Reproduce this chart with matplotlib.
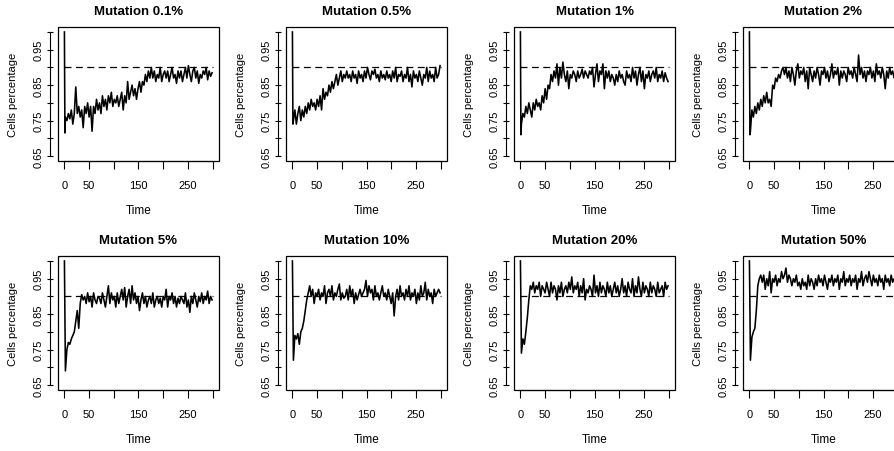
import numpy as np
import matplotlib
matplotlib.use("Agg")
import matplotlib.pyplot as plt
from matplotlib.patches import Rectangle

plt.rcParams['font.family'] = ['Liberation Sans', 'DejaVu Sans']
plt.rcParams['lines.scale_dashes'] = False

# time steps (0, 1, 2, then every 3rd step)
time = np.r_[0, 1, 2, np.arange(5, 301, 3)]

titles = ["Mutation 0.1%", "Mutation 0.5%", "Mutation 1%", "Mutation 2%",
          "Mutation 5%", "Mutation 10%", "Mutation 20%", "Mutation 50%"]

mut_01 = [1.00, 0.715, 0.76, 0.75, 0.77, 0.755, 0.78, 0.74, 0.77, 0.845,
          0.77, 0.79, 0.76, 0.78, 0.73, 0.79, 0.77, 0.80, 0.76, 0.79,
          0.72, 0.79, 0.77, 0.81, 0.78, 0.80, 0.77, 0.82, 0.79, 0.81,
          0.78, 0.82, 0.80, 0.83, 0.79, 0.81, 0.80, 0.82, 0.79, 0.81,
          0.83, 0.78, 0.82, 0.80, 0.86, 0.81, 0.83, 0.85, 0.82, 0.84,
          0.81, 0.84, 0.86, 0.83, 0.86, 0.85, 0.88, 0.86, 0.89, 0.87,
          0.90, 0.87, 0.89, 0.86, 0.88, 0.87, 0.90, 0.86, 0.88, 0.89,
          0.87, 0.89, 0.86, 0.88, 0.90, 0.87, 0.88, 0.855, 0.89, 0.87,
          0.89, 0.86, 0.88, 0.90, 0.87, 0.905, 0.88, 0.86, 0.89, 0.90,
          0.87, 0.89, 0.855, 0.88, 0.87, 0.89, 0.88, 0.90, 0.865, 0.89,
          0.875, 0.885]

mut_05 = [1.00, 0.74, 0.75, 0.78, 0.74, 0.77, 0.79, 0.75, 0.78, 0.76,
          0.79, 0.77, 0.80, 0.78, 0.81, 0.79, 0.80, 0.78, 0.81, 0.79,
          0.82, 0.78, 0.84, 0.81, 0.83, 0.82, 0.85, 0.83, 0.86, 0.84,
          0.86, 0.88, 0.85, 0.87, 0.89, 0.86, 0.88, 0.87, 0.89, 0.87,
          0.88, 0.86, 0.89, 0.87, 0.88, 0.855, 0.89, 0.87, 0.88, 0.86,
          0.89, 0.87, 0.90, 0.88, 0.865, 0.89, 0.88, 0.895, 0.87, 0.88,
          0.86, 0.89, 0.87, 0.88, 0.865, 0.89, 0.87, 0.88, 0.86, 0.89,
          0.87, 0.90, 0.86, 0.88, 0.875, 0.89, 0.86, 0.88, 0.87, 0.90,
          0.86, 0.88, 0.845, 0.89, 0.87, 0.88, 0.86, 0.89, 0.87, 0.85,
          0.88, 0.87, 0.90, 0.86, 0.89, 0.87, 0.88, 0.86, 0.90, 0.87,
          0.88, 0.905]

mut_1 = [1.00, 0.71, 0.74, 0.77, 0.76, 0.79, 0.77, 0.80, 0.78, 0.76,
         0.80, 0.78, 0.81, 0.79, 0.80, 0.78, 0.82, 0.80, 0.84, 0.81,
         0.85, 0.84, 0.88, 0.86, 0.89, 0.87, 0.91, 0.85, 0.90, 0.87,
         0.915, 0.88, 0.86, 0.89, 0.84, 0.88, 0.87, 0.89, 0.88, 0.86,
         0.89, 0.87, 0.88, 0.895, 0.87, 0.89, 0.88, 0.87, 0.89, 0.88,
         0.90, 0.845, 0.88, 0.91, 0.86, 0.89, 0.88, 0.91, 0.84, 0.89,
         0.87, 0.89, 0.86, 0.88, 0.87, 0.85, 0.88, 0.86, 0.89, 0.87,
         0.88, 0.86, 0.85, 0.89, 0.87, 0.88, 0.86, 0.90, 0.87, 0.89,
         0.85, 0.88, 0.90, 0.86, 0.89, 0.84, 0.88, 0.87, 0.89, 0.86,
         0.88, 0.89, 0.87, 0.90, 0.86, 0.88, 0.87, 0.89, 0.86, 0.885,
         0.87, 0.86]

mut_2 = [1.00, 0.71, 0.72, 0.78, 0.76, 0.79, 0.77, 0.80, 0.78, 0.81,
         0.79, 0.82, 0.80, 0.83, 0.80, 0.81, 0.79, 0.85, 0.84, 0.87,
         0.86, 0.88, 0.87, 0.89, 0.90, 0.88, 0.90, 0.87, 0.89, 0.86,
         0.90, 0.88, 0.85, 0.89, 0.91, 0.87, 0.89, 0.88, 0.90, 0.86,
         0.89, 0.84, 0.90, 0.88, 0.86, 0.89, 0.87, 0.90, 0.88, 0.85,
         0.89, 0.88, 0.90, 0.87, 0.89, 0.86, 0.88, 0.91, 0.87, 0.89,
         0.88, 0.90, 0.85, 0.89, 0.87, 0.89, 0.88, 0.86, 0.90, 0.88,
         0.89, 0.87, 0.90, 0.88, 0.86, 0.935, 0.88, 0.90, 0.87, 0.89,
         0.86, 0.89, 0.88, 0.90, 0.87, 0.89, 0.86, 0.91, 0.88, 0.89,
         0.87, 0.90, 0.88, 0.84, 0.89, 0.87, 0.90, 0.88, 0.89, 0.87,
         0.89, 0.88]

mut_5 = [1.00, 0.845, 0.69, 0.75, 0.77, 0.765, 0.78, 0.79, 0.80, 0.83,
         0.86, 0.81, 0.88, 0.905, 0.89, 0.90, 0.88, 0.91, 0.885, 0.90,
         0.87, 0.91, 0.89, 0.88, 0.90, 0.895, 0.88, 0.91, 0.89, 0.87,
         0.90, 0.93, 0.88, 0.91, 0.89, 0.90, 0.87, 0.91, 0.88, 0.90,
         0.92, 0.89, 0.925, 0.87, 0.90, 0.92, 0.88, 0.93, 0.89, 0.91,
         0.88, 0.90, 0.86, 0.89, 0.91, 0.88, 0.90, 0.87, 0.89, 0.90,
         0.88, 0.91, 0.87, 0.89, 0.90, 0.88, 0.895, 0.87, 0.90, 0.89,
         0.92, 0.87, 0.90, 0.89, 0.91, 0.88, 0.90, 0.87, 0.895, 0.88,
         0.90, 0.89, 0.88, 0.91, 0.87, 0.89, 0.855, 0.90, 0.88, 0.91,
         0.89, 0.87, 0.90, 0.885, 0.91, 0.88, 0.90, 0.89, 0.915, 0.88,
         0.90, 0.89]

mut_10 = [1.00, 0.86, 0.72, 0.79, 0.78, 0.795, 0.765, 0.80, 0.81, 0.83,
          0.86, 0.89, 0.91, 0.93, 0.90, 0.92, 0.88, 0.91, 0.90, 0.92,
          0.89, 0.91, 0.90, 0.93, 0.88, 0.91, 0.92, 0.90, 0.93, 0.89,
          0.91, 0.90, 0.92, 0.935, 0.89, 0.91, 0.895, 0.90, 0.92, 0.89,
          0.93, 0.90, 0.92, 0.88, 0.91, 0.89, 0.905, 0.92, 0.90, 0.91,
          0.92, 0.945, 0.90, 0.93, 0.91, 0.92, 0.89, 0.93, 0.90, 0.91,
          0.89, 0.91, 0.93, 0.90, 0.91, 0.89, 0.92, 0.90, 0.88, 0.91,
          0.845, 0.90, 0.92, 0.89, 0.93, 0.90, 0.91, 0.89, 0.92, 0.90,
          0.93, 0.89, 0.91, 0.90, 0.92, 0.88, 0.91, 0.89, 0.93, 0.90,
          0.91, 0.94, 0.89, 0.92, 0.90, 0.91, 0.88, 0.92, 0.90, 0.91,
          0.92, 0.91]

mut_20 = [1.00, 0.88, 0.74, 0.78, 0.765, 0.80, 0.84, 0.89, 0.93, 0.92,
          0.94, 0.91, 0.93, 0.92, 0.94, 0.90, 0.93, 0.92, 0.91, 0.94,
          0.92, 0.90, 0.94, 0.91, 0.93, 0.92, 0.89, 0.93, 0.91, 0.94,
          0.90, 0.92, 0.93, 0.91, 0.94, 0.92, 0.955, 0.91, 0.93, 0.92,
          0.94, 0.90, 0.93, 0.91, 0.95, 0.89, 0.92, 0.91, 0.93, 0.92,
          0.90, 0.96, 0.91, 0.93, 0.90, 0.94, 0.91, 0.93, 0.92, 0.90,
          0.94, 0.91, 0.93, 0.90, 0.92, 0.94, 0.91, 0.93, 0.90, 0.92,
          0.95, 0.91, 0.93, 0.90, 0.94, 0.92, 0.91, 0.95, 0.90, 0.93,
          0.91, 0.955, 0.92, 0.90, 0.94, 0.91, 0.93, 0.92, 0.90, 0.94,
          0.91, 0.93, 0.92, 0.90, 0.94, 0.91, 0.92, 0.93, 0.90, 0.94,
          0.92, 0.93]

mut_50 = [1.00, 0.87, 0.72, 0.785, 0.80, 0.81, 0.86, 0.93, 0.95, 0.96,
          0.94, 0.96, 0.92, 0.95, 0.93, 0.97, 0.91, 0.95, 0.94, 0.96,
          0.93, 0.95, 0.94, 0.97, 0.95, 0.96, 0.98, 0.94, 0.96, 0.95,
          0.93, 0.95, 0.94, 0.96, 0.93, 0.94, 0.92, 0.95, 0.93, 0.94,
          0.92, 0.96, 0.93, 0.95, 0.94, 0.92, 0.95, 0.93, 0.96, 0.94,
          0.95, 0.93, 0.96, 0.94, 0.92, 0.95, 0.94, 0.96, 0.93, 0.95,
          0.94, 0.96, 0.92, 0.95, 0.94, 0.97, 0.93, 0.95, 0.94, 0.96,
          0.93, 0.95, 0.94, 0.96, 0.92, 0.95, 0.94, 0.97, 0.93, 0.95,
          0.96, 0.94, 0.97, 0.95, 0.93, 0.96, 0.94, 0.95, 0.93, 0.96,
          0.94, 0.95, 0.92, 0.96, 0.94, 0.95, 0.93, 0.96, 0.94, 0.95,
          0.93, 0.95]

series = [mut_01, mut_05, mut_1, mut_2, mut_5, mut_10, mut_20, mut_50]

target = 0.9
xticks = [0, 50, 100, 150, 200, 250, 300]
xticklabels = ["0", "50", "", "150", "", "250", ""]
yticks = [0.65, 0.70, 0.75, 0.80, 0.85, 0.90, 0.95, 1.00]
yticklabels = ["0.65", "", "0.75", "", "0.85", "", "0.95", ""]

W, H = 894, 452
fig = plt.figure(figsize=(W / 100, H / 100), dpi=100)

col_left = [58, 286, 514, 743]
row_top = [28, 257]
box_w, box_h = 161, 134

for i, (vals, title) in enumerate(zip(series, titles)):
    r, c = divmod(i, 4)
    left = col_left[c] / W
    bottom = (H - row_top[r] - box_h) / H
    ax = fig.add_axes([left, bottom, box_w / W, box_h / H])

    ax.plot(time, vals, color="black", lw=1.15)
    ax.plot([0, 300], [target, target], color="black", lw=0.9, dashes=(5, 3.2))

    ax.set_xlim(-13, 313)
    ax.set_ylim(0.636, 1.014)

    for s in ["top", "right"]:
        ax.spines[s].set_visible(False)
    ax.spines["left"].set_bounds(0.65, 1.0)
    ax.spines["left"].set_position(("outward", 6))
    ax.spines["bottom"].set_bounds(0, 300)
    ax.spines["left"].set_linewidth(0.8)
    ax.spines["bottom"].set_linewidth(0.8)
    ax.add_patch(Rectangle((0, 0), 1, 1, transform=ax.transAxes, fill=False,
                           lw=0.9, ec="black", clip_on=False, zorder=5))

    ax.set_xticks(xticks)
    ax.set_xticklabels(xticklabels, fontsize=8)
    ax.set_yticks(yticks)
    ax.set_yticklabels(yticklabels, fontsize=8, rotation=90, va="center")
    ax.tick_params(axis="x", length=6, width=0.8, pad=8)
    ax.tick_params(axis="y", length=5, width=0.8, pad=2, direction="inout")

    ax.text(0.5, 1.12, title, transform=ax.transAxes, ha="center", va="center",
            fontsize=9.5, fontweight="bold")
    ax.text(0.5, -0.365, "Time", transform=ax.transAxes, ha="center", va="center",
            fontsize=8.5)
    ax.text(-0.28, 0.5, "Cells percentage", transform=ax.transAxes, ha="center",
            va="center", rotation=90, fontsize=8)

fig.savefig("out.png", dpi=100)
